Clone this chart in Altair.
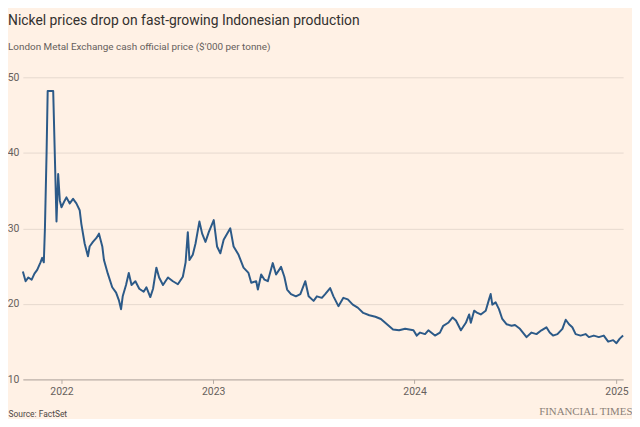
import altair as alt
import pandas as pd

# Daily LME nickel cash official price, $'000 per tonne
dates = [
    "2022-01-21", "2022-01-26", "2022-01-31", "2022-02-06", "2022-02-11", "2022-02-16",
    "2022-02-22", "2022-02-25", "2022-02-28", "2022-03-02", "2022-03-05", "2022-03-07",
    "2022-03-17", "2022-03-23", "2022-03-26", "2022-03-29", "2022-04-01", "2022-04-07",
    "2022-04-10", "2022-04-16", "2022-04-22", "2022-04-28", "2022-05-04", "2022-05-07",
    "2022-05-13", "2022-05-19", "2022-05-22", "2022-05-28", "2022-06-03", "2022-06-08",
    "2022-06-14", "2022-06-17", "2022-06-24", "2022-07-02", "2022-07-09", "2022-07-14",
    "2022-07-18", "2022-07-21", "2022-07-27", "2022-08-01", "2022-08-06", "2022-08-13",
    "2022-08-20", "2022-08-28", "2022-09-02", "2022-09-09", "2022-09-14", "2022-09-20",
    "2022-09-25", "2022-10-02", "2022-10-11", "2022-10-20", "2022-10-29", "2022-11-07",
    "2022-11-12", "2022-11-16", "2022-11-19", "2022-11-25", "2022-11-30", "2022-12-07",
    "2022-12-12", "2022-12-18", "2022-12-24", "2023-01-02", "2023-01-08", "2023-01-14",
    "2023-01-20", "2023-02-01", "2023-02-07", "2023-02-16", "2023-02-25", "2023-03-06",
    "2023-03-11", "2023-03-20", "2023-03-23", "2023-03-29", "2023-04-04", "2023-04-10",
    "2023-04-19", "2023-04-25", "2023-05-04", "2023-05-10", "2023-05-15", "2023-05-22",
    "2023-05-31", "2023-06-08", "2023-06-17", "2023-06-23", "2023-07-02", "2023-07-08",
    "2023-07-17", "2023-07-23", "2023-08-01", "2023-08-07", "2023-08-16", "2023-08-25",
    "2023-09-02", "2023-09-11", "2023-09-20", "2023-09-30", "2023-10-11", "2023-10-22",
    "2023-11-01", "2023-11-12", "2023-11-23", "2023-12-04", "2023-12-15", "2023-12-30",
    "2024-01-05", "2024-01-11", "2024-01-20", "2024-01-26", "2024-02-07", "2024-02-16",
    "2024-02-22", "2024-03-02", "2024-03-10", "2024-03-16", "2024-03-25", "2024-04-03",
    "2024-04-09", "2024-04-12", "2024-04-18", "2024-04-24", "2024-04-30", "2024-05-09",
    "2024-05-15", "2024-05-18", "2024-05-21", "2024-05-27", "2024-06-02", "2024-06-08",
    "2024-06-16", "2024-06-25", "2024-07-01", "2024-07-10", "2024-07-22", "2024-07-31",
    "2024-08-09", "2024-08-18", "2024-08-27", "2024-09-02", "2024-09-08", "2024-09-16",
    "2024-09-25", "2024-10-01", "2024-10-07", "2024-10-13", "2024-10-19", "2024-10-28",
    "2024-11-06", "2024-11-12", "2024-11-21", "2024-11-30", "2024-12-09", "2024-12-17",
    "2024-12-26", "2025-01-01", "2025-01-07", "2025-01-13",
]

prices = [
    24.3, 23.0, 23.5, 23.2, 24.0, 24.5,
    25.5, 26.1, 25.5, 30.0, 40.0, 48.2,
    48.2, 30.9, 37.2, 33.7, 32.8, 33.7,
    34.1, 33.3, 33.9, 33.3, 32.4, 30.6,
    28.0, 26.3, 27.6, 28.2, 28.7, 29.3,
    27.6, 25.8, 24.0, 22.2, 21.5, 20.5,
    19.3, 21.0, 22.5, 24.1, 22.5, 23.0,
    22.0, 21.6, 22.2, 20.9, 22.0, 24.8,
    23.5, 22.5, 23.5, 23.0, 22.6, 23.6,
    25.5, 29.5, 25.8, 26.5, 28.0, 30.9,
    29.3, 28.2, 29.5, 31.1, 27.6, 26.7,
    28.5, 30.0, 27.6, 26.5, 24.8, 24.1,
    22.8, 23.0, 21.9, 23.9, 23.2, 23.0,
    25.4, 23.9, 24.9, 23.6, 21.9, 21.3,
    21.0, 21.3, 23.0, 21.0, 20.4, 21.0,
    20.8, 21.3, 22.1, 21.0, 19.7, 20.8,
    20.6, 19.9, 19.5, 18.8, 18.5, 18.3,
    18.0, 17.3, 16.6, 16.5, 16.7, 16.5,
    15.8, 16.2, 16.0, 16.5, 15.8, 16.2,
    17.1, 17.5, 18.2, 17.8, 16.5, 17.5,
    18.6, 17.5, 19.1, 18.8, 18.6, 19.1,
    20.6, 21.3, 19.9, 20.2, 19.3, 18.0,
    17.3, 17.1, 17.2, 16.7, 15.6, 16.2,
    16.0, 16.5, 16.9, 16.2, 15.8, 16.0,
    16.7, 17.9, 17.3, 16.9, 16.0, 15.8,
    16.0, 15.6, 15.8, 15.6, 15.8, 15.0,
    15.2, 14.8, 15.4, 15.8,
]

y_ticks = [10, 20, 30, 40, 50]
x_tick_dates = [(2022, 4, 1), (2023, 1, 1), (2024, 1, 1), (2025, 1, 1)]

title_text = "Nickel prices drop on fast-growing Indonesian production"
subtitle_text = "London Metal Exchange cash official price ($'000 per tonne)"
source_text = "Source: FactSet"
brand_text = "FINANCIAL TIMES"

df = pd.DataFrame({"date": dates, "price": prices})

SANS = "Roboto, sans-serif"
BG = "#FFF1E5"
TXT = "#66605c"

PLOT_W, PLOT_H = 606, 305
PAD_L, PAD_T, PAD_R, PAD_B = 15, 68, 9, 38

line = alt.Chart(df).mark_line(color="#2c5a88", strokeWidth=2, strokeJoin="round").encode(
    x=alt.X(
        "date:T",
        scale=alt.Scale(nice=False),
        axis=alt.Axis(
            values=[alt.DateTime(year=y, month=m, date=d) for (y, m, d) in x_tick_dates],
            format="%Y",
            grid=False,
            domainColor="#b4aaa2",
            tickColor="#b4aaa2",
            tickSize=4,
            labelPadding=3,
            labelColor=TXT,
            labelFontSize=10.5,
            labelFont=SANS,
            title=source_text,
            titleFont=SANS,
            titleFontSize=8.5,
            titleFontWeight="normal",
            titleColor="#4d4845",
            titleAnchor="start",
            titleAlign="left",
            titleBaseline="alphabetic",
            titleX=-PAD_L,
            titleY=PAD_B - 1,
        ),
    ),
    y=alt.Y(
        "price:Q",
        scale=alt.Scale(domain=[10, 50], nice=False, zero=False),
        axis=alt.Axis(
            values=y_ticks,
            grid=True,
            gridColor="#e6d9ce",
            gridWidth=1,
            domain=False,
            ticks=False,
            labelPadding=4,
            labelColor=TXT,
            labelFontSize=10.5,
            labelFont=SANS,
            title=brand_text,
            titleFont="Liberation Serif, DejaVu Serif, serif",
            titleFontSize=11,
            titleFontWeight="normal",
            titleColor="#8a7f77",
            titleAngle=0,
            titleAlign="right",
            titleBaseline="alphabetic",
            titleX=PLOT_W + PAD_R,
            titleY=PLOT_H + PAD_B - 3,
        ),
    ),
)

chart = line.properties(
    width=PLOT_W,
    height=PLOT_H,
    autosize=alt.AutoSizeParams(type="none"),
    padding={"left": PAD_L, "top": PAD_T, "right": PAD_R, "bottom": PAD_B},
    background=BG,
    title=alt.TitleParams(
        text=title_text,
        subtitle=subtitle_text,
        anchor="start",
        frame="group",
        dx=-PAD_L,
        offset=21,
        font=SANS,
        fontSize=14,
        fontWeight="normal",
        color="#33302e",
        subtitleFont=SANS,
        subtitleFontSize=10,
        subtitleColor=TXT,
        subtitlePadding=14,
    ),
).configure_view(stroke=None)

chart.save("out.html", embed_options={"renderer": "svg", "actions": False})
